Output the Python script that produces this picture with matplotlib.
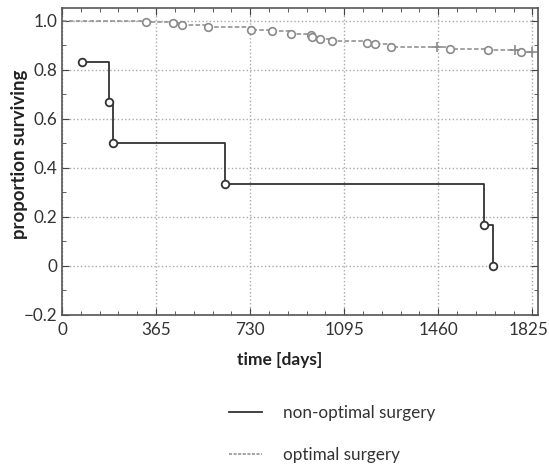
import matplotlib
matplotlib.use("Agg")
import matplotlib.pyplot as plt
import matplotlib.transforms as mtransforms
from matplotlib.ticker import MultipleLocator
from matplotlib.lines import Line2D

plt.rcParams['font.family'] = ['Lato', 'DejaVu Sans']

# non-optimal surgery: event times and survival
nonopt_t = [77, 183, 197, 632, 1638, 1674]
nonopt_s = [0.833, 0.667, 0.5, 0.333, 0.167, 0.0]

# optimal surgery: event times and survival (start at t=0)
opt_t = [0, 326, 431, 466, 565, 733, 815, 890, 965, 971, 1000, 1047, 1184, 1213, 1275, 1507, 1654, 1781]
opt_s = [1.0, 0.996, 0.989, 0.981, 0.973, 0.963, 0.957, 0.947, 0.943, 0.934, 0.926, 0.919, 0.911, 0.904, 0.894, 0.886, 0.880, 0.871]
# censored observations
cens_t = [1454, 1758, 1825]
cens_s = [0.894, 0.880, 0.871]

xticks = [0, 365, 730, 1095, 1460, 1825]
yticks = [-0.2, 0, 0.2, 0.4, 0.6, 0.8, 1.0]
ylabels = ["\u22120.2", "0", "0.2", "0.4", "0.6", "0.8", "1.0"]

dark = "#333333"
grey = "#8a8a8a"

fig = plt.figure(figsize=(5.49, 4.70), dpi=100)
ax = fig.add_axes([0.113, 0.330, 0.867, 0.652])

ax.step(nonopt_t, nonopt_s, where="post", color=dark, linewidth=1.3)
ax.plot(nonopt_t, nonopt_s, "o", markersize=5.5, markerfacecolor="white",
        markeredgecolor=dark, markeredgewidth=1.3, linestyle="none")

ax.step(opt_t + [cens_t[-1]], opt_s + [cens_s[-1]], where="post", color=grey,
        linewidth=1.1, linestyle=(0, (3, 1.5)))
ax.plot(opt_t[1:], opt_s[1:], "o", markersize=5.5, markerfacecolor="white",
        markeredgecolor=grey, markeredgewidth=1.2, linestyle="none")
ax.plot(cens_t, cens_s, "+", markersize=7, markeredgecolor=grey,
        markeredgewidth=1.2, linestyle="none")

ax.set_xlim(0, 1847)
ax.set_ylim(-0.2, 1.05)
ax.set_xticks(xticks)
ax.xaxis.set_minor_locator(MultipleLocator(73))
ax.set_yticks(yticks)
ax.set_yticklabels(ylabels)
ax.yaxis.set_minor_locator(MultipleLocator(0.1))

ax.tick_params(which="both", direction="in", top=True, right=True, colors="#444444",
               labelcolor="#333333", labelsize=12.3)
ax.tick_params(which="major", length=5)
ax.tick_params(which="minor", length=3)
ax.tick_params(axis="x", pad=5)
for sp in ax.spines.values():
    sp.set_color("#555555")
    sp.set_linewidth(1.2)
ax.grid(True, which="major", linestyle=":", color="#aaaaaa", linewidth=1.0)

# nudge the last x tick label a little so it stays inside the figure
last = ax.get_xticklabels()[-1]
last.set_transform(last.get_transform() + mtransforms.ScaledTranslation(-3 / 72, 0, fig.dpi_scale_trans))

ax.set_xlabel("time [days]", fontsize=12.5, fontweight="bold", color="#222222")
ax.set_ylabel("proportion surviving", fontsize=13.4, fontweight="bold", color="#222222")
ax.xaxis.set_label_coords(0.458, -0.121)
ax.yaxis.set_label_coords(-0.071, 0.525)

handles = [Line2D([], [], color=dark, linewidth=1.3),
           Line2D([], [], color=grey, linewidth=1.1, linestyle=(0, (2, 1)))]
fig.legend(handles, ["non-optimal surgery", "optimal surgery"], loc="center",
           bbox_to_anchor=(0.605, 0.076), frameon=False, fontsize=12.3,
           labelspacing=1.5, handlelength=1.9, handletextpad=1.25, labelcolor="#333333")

fig.savefig("out.png", dpi=100)
